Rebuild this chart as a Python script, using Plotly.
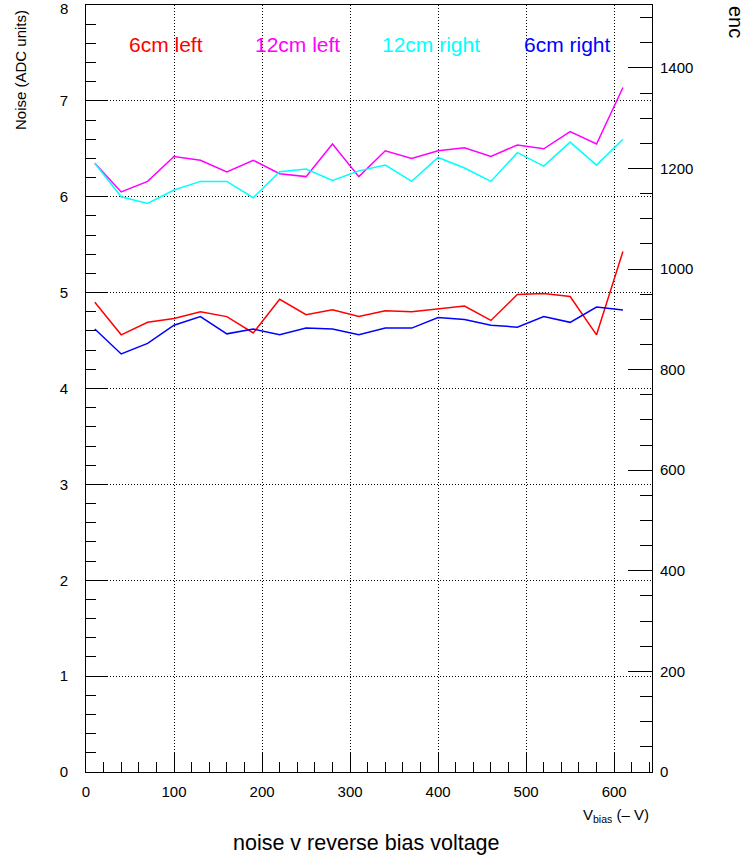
import plotly.graph_objects as go

# Reverse bias voltage (V) at which the noise was measured
bias_v = [10, 40, 70, 100, 130, 160, 190, 220, 250, 280, 310,
          340, 370, 400, 430, 460, 490, 520, 550, 580, 610]

# Noise in ADC units for each detector side
noise_6cm_left = [4.90, 4.56, 4.69, 4.73, 4.80, 4.75, 4.58, 4.93, 4.77, 4.82, 4.75,
                  4.81, 4.80, 4.83, 4.86, 4.71, 4.98, 4.99, 4.96, 4.56, 5.43]
noise_12cm_left = [6.35, 6.05, 6.16, 6.42, 6.38, 6.26, 6.38, 6.24, 6.21, 6.55, 6.21,
                   6.48, 6.40, 6.48, 6.51, 6.42, 6.54, 6.50, 6.68, 6.55, 7.14]
noise_12cm_right = [6.35, 6.00, 5.93, 6.07, 6.16, 6.16, 5.99, 6.26, 6.29, 6.17, 6.27,
                    6.33, 6.16, 6.41, 6.30, 6.16, 6.46, 6.32, 6.57, 6.33, 6.60]
noise_6cm_right = [4.62, 4.36, 4.47, 4.66, 4.75, 4.57, 4.62, 4.56, 4.63, 4.62, 4.56,
                   4.63, 4.63, 4.74, 4.72, 4.66, 4.64, 4.75, 4.69, 4.85, 4.82]

# Left-axis tick values (ADC units)
noise_ticks = [0, 1, 2, 3, 4, 5, 6, 7, 8]

series_names = ["6cm left", "12cm left", "12cm right", "6cm right"]
series_colors = ["#ff0000", "#ff00ff", "#00ffff", "#0000ff"]
series_values = [noise_6cm_left, noise_12cm_left, noise_12cm_right, noise_6cm_right]

FONT = "Liberation Sans, Arial, Helvetica, sans-serif"

fig = go.Figure()
for name, color, vals in zip(series_names, series_colors, series_values):
    fig.add_trace(go.Scatter(x=bias_v, y=vals, mode="lines", name=name,
                             line=dict(color=color, width=1.5)))

# Plot area: l=86, w=566, t=5, h=767
L, W, T, H = 86, 566, 5, 767
FIG_W, FIG_H = 746, 858


def px(xp):
    return (xp - L) / W


def py(yp):
    return (T + H - yp) / H


# Coloured series labels across the top of the frame
label_x = [166, 297, 431, 567]
for name, color, xc in zip(series_names, series_colors, label_x):
    fig.add_annotation(x=px(xc), y=py(45), xref="paper", yref="paper",
                       text=name, showarrow=False, xanchor="center", yanchor="middle",
                       font=dict(family=FONT, size=21, color=color))

fig.add_annotation(x=px(366), y=py(843), xref="paper", yref="paper",
                   text="noise v reverse bias voltage", showarrow=False,
                   xanchor="center", yanchor="middle",
                   font=dict(family=FONT, size=21.5, color="black"))
fig.add_annotation(x=px(616), y=py(815), xref="paper", yref="paper",
                   text="V<sub>bias</sub> (– V)", showarrow=False,
                   xanchor="center", yanchor="middle",
                   font=dict(family=FONT, size=15, color="black"))
fig.add_annotation(x=px(20), y=py(70), xref="paper", yref="paper",
                   text="Noise (ADC units)", showarrow=False, textangle=-90,
                   xanchor="center", yanchor="middle",
                   font=dict(family=FONT, size=15, color="black"))
fig.add_annotation(x=px(736), y=py(22), xref="paper", yref="paper",
                   text="enc", showarrow=False, textangle=90,
                   xanchor="center", yanchor="middle",
                   font=dict(family=FONT, size=20, color="black"))
# Top left-axis label, nudged down so it stays inside the page
fig.add_annotation(x=px(70), y=noise_ticks[-1], xref="paper", yref="y",
                   text=str(noise_ticks[-1]), showarrow=False,
                   xanchor="right", yanchor="middle", yshift=-3,
                   font=dict(family=FONT, size=15, color="black"))

GRID = dict(showgrid=True, gridcolor="black", gridwidth=1, griddash="1px,2px")

fig.update_layout(
    width=FIG_W, height=FIG_H,
    margin=dict(l=L, r=FIG_W - L - W, t=T, b=FIG_H - T - H, pad=0,
                autoexpand=False),
    paper_bgcolor="white", plot_bgcolor="white",
    showlegend=False,
    font=dict(family=FONT, size=15, color="black"),
    xaxis=dict(range=[0, 643], dtick=100, tick0=0, ticks="inside", ticklen=20,
               tickcolor="black", showline=True, linecolor="black", linewidth=1,
               mirror=True, zeroline=False, ticklabelstandoff=6,
               ticklabeloverflow="allow", automargin=False,
               tickfont=dict(family=FONT, size=15),
               minor=dict(dtick=20, ticks="inside", ticklen=10, tickcolor="black",
                          showgrid=False),
               **GRID),
    yaxis=dict(range=[noise_ticks[0], noise_ticks[-1]],
               tickmode="array", tickvals=noise_ticks[:-1],
               ticks="inside", ticklen=21,
               tickcolor="black", showline=True, linecolor="black", linewidth=1,
               zeroline=False, ticklabelstandoff=14,
               ticklabeloverflow="allow", automargin=False,
               tickfont=dict(family=FONT, size=15),
               minor=dict(dtick=0.2, tick0=0, ticks="inside", ticklen=10,
                          tickcolor="black", showgrid=False),
               **GRID),
    yaxis2=dict(overlaying="y", side="right", range=[0, 1525], dtick=200, tick0=0,
                ticks="inside", ticklen=24, tickcolor="black", showline=True,
                linecolor="black", linewidth=1, showgrid=False, zeroline=False,
                ticklabelstandoff=4, ticklabeloverflow="allow", automargin=False,
                tickfont=dict(family=FONT, size=15),
                minor=dict(dtick=50, ticks="inside", ticklen=12, tickcolor="black",
                           showgrid=False)),
)

# Invisible carrier so the enc axis is rendered
fig.add_trace(go.Scatter(x=[bias_v[0]], y=[0], yaxis="y2", mode="markers",
                         marker=dict(opacity=0), hoverinfo="skip", showlegend=False))

fig.write_html("out.html")
